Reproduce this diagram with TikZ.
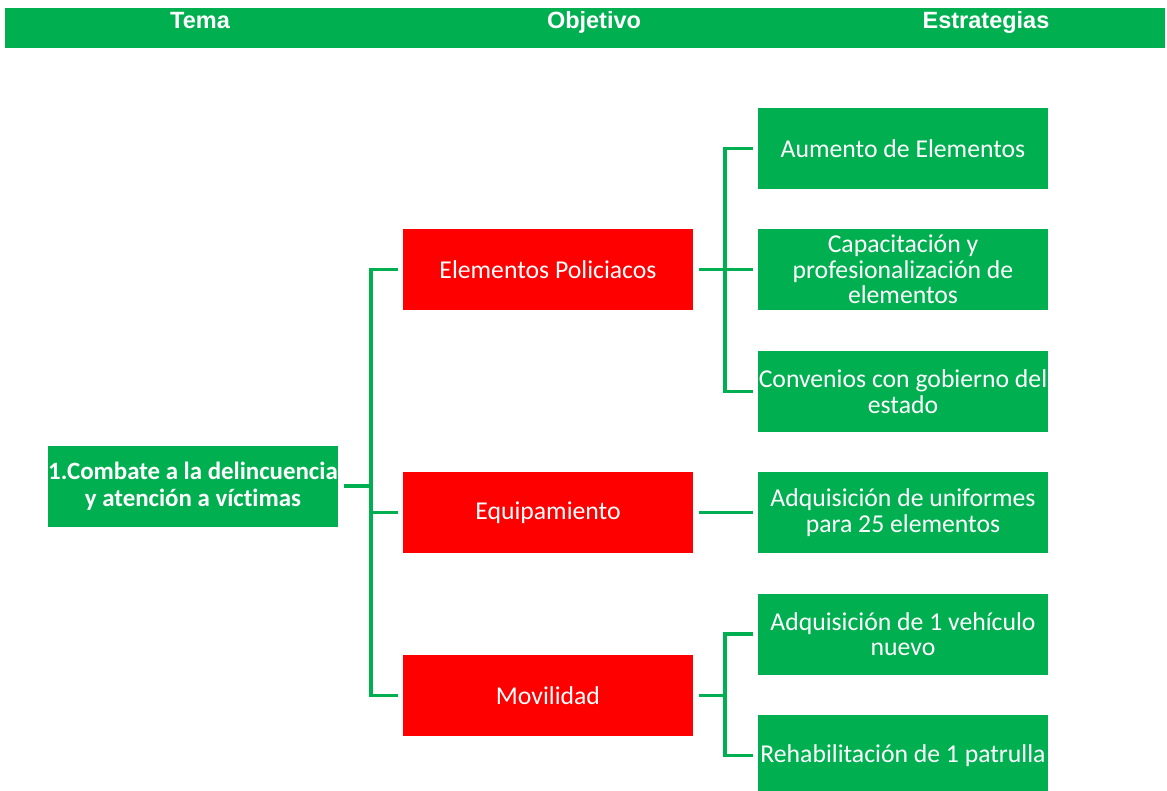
\documentclass[tikz,border=0pt]{standalone}
\usepackage{fontspec}
\newfontfamily\calfont[Ligatures=NoCommon]{Carlito}
\newfontfamily\hdrfont{Liberation Sans}
\definecolor{pgreen}{HTML}{00B050}
\definecolor{pred}{HTML}{FF0000}
\begin{document}
\begin{tikzpicture}[x=1pt,y=-1pt,
  box/.style={minimum width=290pt,minimum height=81pt,inner sep=0pt,outer sep=5.5pt,
    text=white,align=center,font=\calfont\fontsize{25.7}{25.5}\selectfont},
  gbox/.style={box,fill=pgreen},
  rbox/.style={box,fill=pred},
  hdr/.style={anchor=base,text=white,inner sep=0pt,font=\hdrfont\bfseries\fontsize{23.5}{26}\selectfont},
  conn/.style={draw=pgreen,line width=3.9pt}]
\useasboundingbox (0,0) rectangle (1167,791);
\fill[pgreen] (5,8) rectangle (1165,48);
\node[hdr] (h1) at (200,29) {Tema};
\node[hdr] (h2) at (594,29) {Objetivo};
\node[hdr] (h3) at (986,29) {Estrategias};

\node[gbox,font=\calfont\bfseries\fontsize{24.9}{27}\selectfont] (tema) at (193,486) {1.Combate a la delincuencia\\y atención a víctimas};

\node[rbox] (o1) at (548,269.5) {Elementos Policiacos};
\node[rbox] (o2) at (548,512.5) {Equipamiento};
\node[rbox] (o3) at (548,695.5) {Movilidad};

\node[gbox] (s1) at (903,148.5) {Aumento de Elementos};
\node[gbox] (s2) at (903,269.5) {Capacitación y\\profesionalización de\\elementos};
\node[gbox] (s3) at (903,391.5) {Convenios con gobierno del\\estado};
\node[gbox] (s4) at (903,512.5) {Adquisición de uniformes\\para 25 elementos};
\node[gbox] (s5) at (903,634) {Adquisición de 1 vehículo\\nuevo};
\node[gbox] (s6) at (903,755.5) {Rehabilitación de 1 patrulla};

\coordinate (j1) at (371,486);
\coordinate (j2) at (725,269.5);
\coordinate (j3) at (725,695.5);

\draw[conn] (tema.east) -- (j1);
\draw[conn] (j1) |- (o1.west);
\draw[conn] (j1) |- (o2.west);
\draw[conn] (j1) |- (o3.west);

\draw[conn] (o1.east) -- (j2);
\draw[conn] (j2) |- (s1.west);
\draw[conn] (j2) |- (s2.west);
\draw[conn] (j2) |- (s3.west);

\draw[conn] (o2.east) -- (s4.west);

\draw[conn] (o3.east) -- (j3);
\draw[conn] (j3) |- (s5.west);
\draw[conn] (j3) |- (s6.west);
\end{tikzpicture}
\end{document}
